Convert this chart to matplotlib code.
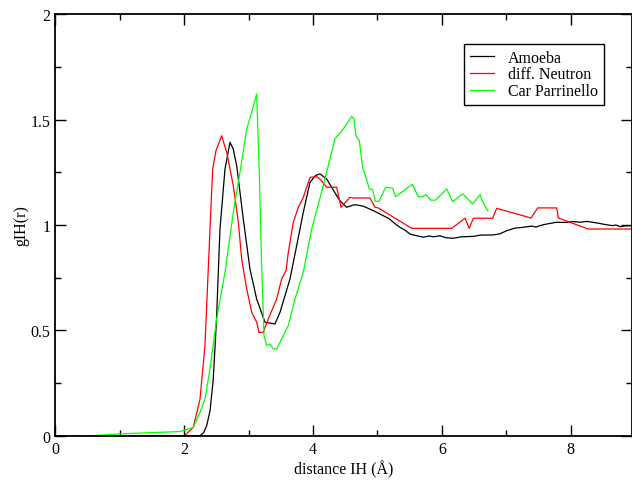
import matplotlib
matplotlib.use('Agg')
import matplotlib.pyplot as plt
from matplotlib.ticker import MultipleLocator, FormatStrFormatter

# Amoeba
amoeba_x = [0.0, 1.0, 2.0, 2.15, 2.244, 2.30, 2.348, 2.40, 2.450, 2.50, 2.554, 2.632, 2.710, 2.76,
            2.814, 2.916, 3.020, 3.124, 3.253, 3.408, 3.486, 3.641, 3.745, 3.848, 3.952,
            4.04, 4.107, 4.211, 4.366, 4.418, 4.52, 4.624, 4.677, 4.78, 4.935, 5.09, 5.18,
            5.245, 5.30, 5.349, 5.43, 5.505, 5.60, 5.711, 5.80, 5.87, 5.97, 6.06, 6.177,
            6.30, 6.487, 6.60, 6.80, 6.90, 7.006, 7.13, 7.26, 7.40, 7.46, 7.52, 7.60, 7.78,
            7.90, 8.04, 8.15, 8.25, 8.40, 8.56, 8.65, 8.70, 8.77, 8.85, 8.95]
amoeba_y = [0.0, 0.0, 0.0, 0.0, 0.0014, 0.015, 0.049, 0.12, 0.27, 0.55, 0.981, 1.265, 1.392, 1.36,
            1.281, 1.028, 0.791, 0.649, 0.539, 0.531, 0.586, 0.744, 0.902, 1.060, 1.202,
            1.235, 1.242, 1.218, 1.139, 1.115, 1.084, 1.095, 1.095, 1.089, 1.068, 1.044, 1.03,
            1.013, 1.00, 0.989, 0.975, 0.957, 0.950, 0.942, 0.948, 0.944, 0.949, 0.940, 0.937,
            0.944, 0.946, 0.952, 0.953, 0.958, 0.973, 0.985, 0.989, 0.995, 0.990, 0.997, 1.003, 1.013,
            1.012, 1.016, 1.013, 1.017, 1.010, 1.001, 0.997, 1.000, 0.992, 0.996, 0.997]

# diff. Neutron
neutron_x = [0.0, 2.0, 2.14, 2.244, 2.321, 2.399, 2.441, 2.492, 2.58, 2.658, 2.761, 2.839,
             2.891, 2.969, 3.047, 3.124, 3.16, 3.227, 3.305, 3.434, 3.512, 3.58, 3.615,
             3.693, 3.77, 3.848, 3.952, 4.056, 4.107, 4.211, 4.366, 4.433, 4.573, 4.624,
             4.884, 4.961, 5.012, 5.531, 6.152, 6.359, 6.425, 6.488, 6.789, 6.851, 7.384,
             7.487, 7.783, 7.808, 8.273, 8.95]
neutron_y = [0.0, 0.0, 0.041, 0.175, 0.428, 0.981, 1.265, 1.352, 1.423, 1.345, 1.186, 1.013,
             0.839, 0.697, 0.586, 0.539, 0.491, 0.491, 0.555, 0.649, 0.744, 0.784, 0.870,
             1.013, 1.084, 1.131, 1.226, 1.229, 1.218, 1.179, 1.179, 1.084, 1.131, 1.128,
             1.128, 1.084, 1.081, 0.984, 0.984, 1.032, 0.984, 1.032, 1.032, 1.079, 1.033,
             1.081, 1.081, 1.033, 0.981, 0.981]

# Car Parrinello
cp_x = [0.0, 0.6, 1.0, 1.5, 1.933, 2.14, 2.244, 2.321, 2.399, 2.503, 2.632, 2.761, 2.865,
        2.969, 3.047, 3.124, 3.165, 3.2, 3.238, 3.279, 3.331, 3.382, 3.434, 3.512, 3.615,
        3.719, 3.848, 3.978, 4.158, 4.34, 4.469, 4.521, 4.6, 4.635, 4.666, 4.718, 4.77,
        4.821, 4.873, 4.925, 4.966, 5.023, 5.127, 5.236, 5.282, 5.54, 5.634, 5.702, 5.753,
        5.826, 5.904, 6.075, 6.168, 6.323, 6.478, 6.592, 6.633, 6.711]
cp_y = [0.0, 0.002, 0.01, 0.016, 0.021, 0.041, 0.112, 0.175, 0.318, 0.555, 0.776, 1.06, 1.25,
        1.455, 1.534, 1.621, 1.25, 0.823, 0.475, 0.428, 0.436, 0.412, 0.412, 0.46, 0.523,
        0.649, 0.776, 0.981, 1.186, 1.408, 1.455, 1.479, 1.515, 1.502, 1.423, 1.40, 1.273,
        1.226, 1.171, 1.167, 1.112, 1.112, 1.179, 1.174, 1.134, 1.193, 1.134, 1.134, 1.144,
        1.118, 1.118, 1.171, 1.11, 1.148, 1.10, 1.144, 1.11, 1.068]

plt.rcParams['font.family'] = ['Liberation Serif', 'DejaVu Serif']
plt.rcParams['font.size'] = 11.5

fig = plt.figure(figsize=(6.32, 4.81), dpi=100)
ax = fig.add_axes([0.0878, 0.0915, 0.912, 0.8773])

ax.plot(amoeba_x, amoeba_y, color='black', lw=0.9, label='Amoeba')
ax.plot(neutron_x, neutron_y, color='#ff0000', lw=0.9, label='diff. Neutron')
ax.plot(cp_x, cp_y, color='#00ff00', lw=0.9, label='Car Parrinello')

ax.set_xlim(0, 8.95)
ax.set_ylim(0, 2)
ax.xaxis.set_major_locator(MultipleLocator(2))
ax.xaxis.set_minor_locator(MultipleLocator(1))
ax.yaxis.set_major_locator(MultipleLocator(0.5))
ax.yaxis.set_minor_locator(MultipleLocator(0.25))
ax.yaxis.set_major_formatter(FormatStrFormatter('%g'))
ax.tick_params(which='both', direction='in', top=True, right=True, width=1.0)
ax.tick_params(which='major', length=8)
ax.tick_params(which='minor', length=4)
for s in ax.spines.values():
    s.set_linewidth(1.3)

ax.set_xlabel('distance IH (Å)', labelpad=2)
ax.set_ylabel('gIH(r)', labelpad=1)

leg = ax.legend(loc='upper right', bbox_to_anchor=(0.951, 0.929), borderaxespad=0,
                frameon=True, fancybox=False, edgecolor='black', framealpha=1,
                handlelength=1.5, handletextpad=0.9, borderpad=0.35, labelspacing=0.05,
                fontsize=11.5)
leg.get_frame().set_linewidth(1.0)

fig.savefig('out.png', dpi=100)
